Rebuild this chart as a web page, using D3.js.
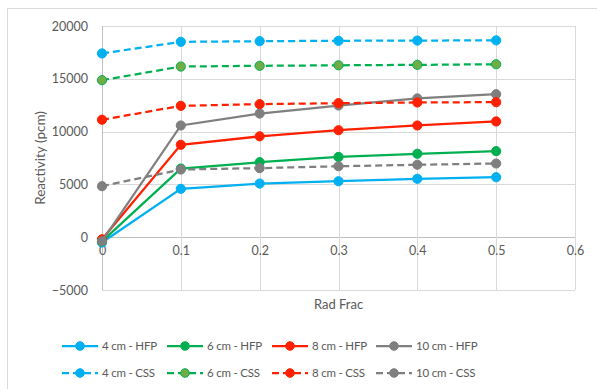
<!DOCTYPE html>
<html><head><meta charset="utf-8">
<script src="https://cdn.jsdelivr.net/npm/d3@7"></script>
<style>body{margin:0;background:#fff}svg{display:block}text{font-family:Lato,"Open Sans",sans-serif;fill:#595959}</style>
</head><body><svg id="c" width="597" height="389"></svg>
<script>
const radFrac = [0, 0.1, 0.2, 0.3, 0.4, 0.5];
const xTicks = [0, 0.1, 0.2, 0.3, 0.4, 0.5, 0.6];
const yTicks = [-5000, 0, 5000, 10000, 15000, 20000];
const seriesNames = ["4 cm - HFP","6 cm - HFP","8 cm - HFP","10 cm - HFP","4 cm - CSS","6 cm - CSS","8 cm - CSS","10 cm - CSS"];
const hfp4 = [-500, 4580, 5080, 5300, 5530, 5680];
const hfp6 = [-400, 6500, 7100, 7600, 7900, 8150];
const hfp8 = [-200, 8750, 9550, 10130, 10580, 10960];
const hfp10 = [-380, 10580, 11710, 12470, 13140, 13540];
const css4 = [17400, 18500, 18560, 18600, 18620, 18640];
const css6 = [14870, 16160, 16230, 16280, 16320, 16380];
const css8 = [11120, 12440, 12600, 12690, 12760, 12790];
const css10 = [4830, 6410, 6540, 6720, 6860, 6980];
const seriesValues = [hfp4, hfp6, hfp8, hfp10, css4, css6, css8, css10];
const colors = ["#00b0f0","#00b050","#ff2000","#7f7f7f","#00b0f0","#00b050","#ff2000","#7f7f7f"];
const markerFill = ["#00b0f0","#00b050","#ff2000","#7f7f7f","#00b0f0","#70ad47","#ff2000","#7f7f7f"];
const dashed = [false,false,false,false,true,true,true,true];

const svg = d3.select("#c");
svg.append("rect").attr("x",7.5).attr("y",8.5).attr("width",620).attr("height",420)
  .attr("fill","#fff").attr("stroke","#d9d9d9");

const L=102, R=575, T=26, B=290;
const x = d3.scaleLinear().domain([0,0.6]).range([L,R]);
const y = d3.scaleLinear().domain([-5000,20000]).range([B,T]);

// grid
const g = svg.append("g");
g.selectAll(".hg").data(yTicks).join("line")
  .attr("x1",L).attr("x2",R).attr("y1",d=>Math.round(y(d))+0.5).attr("y2",d=>Math.round(y(d))+0.5)
  .attr("stroke",d=>d===0?"#bfbfbf":"#d9d9d9").attr("stroke-width",1);
g.selectAll(".vg").data(xTicks).join("line")
  .attr("y1",T).attr("y2",B).attr("x1",d=>Math.round(x(d))+0.5).attr("x2",d=>Math.round(x(d))+0.5)
  .attr("stroke",d=>d===0?"#bfbfbf":"#d9d9d9").attr("stroke-width",1);

// y axis labels
const yAxis = d3.axisLeft(y).tickValues(yTicks).tickSize(0).tickPadding(14).tickFormat(d3.format("d"));
const ya = svg.append("g").attr("transform",`translate(${L},0)`).call(yAxis);
ya.select(".domain").remove();
ya.selectAll("text").style("font-size","12.5px").attr("fill","#595959").style("font-family","Lato,sans-serif");

// x axis labels at y=0
const xAxis = d3.axisBottom(x).tickValues(xTicks).tickSize(0).tickPadding(9).tickFormat(d=>d===0?"0":d3.format(".1f")(d));
const xa = svg.append("g").attr("transform",`translate(0,${y(0)})`).call(xAxis);
xa.select(".domain").remove();
xa.selectAll("text").style("font-size","12.5px").attr("fill","#595959").style("font-family","Lato,sans-serif");

// titles
svg.append("text").attr("x",(L+R)/2).attr("y",309).attr("text-anchor","middle").style("font-size","13px").text("Rad Frac");
svg.append("text").attr("transform",`translate(45,${(T+B)/2}) rotate(-90)`).attr("text-anchor","middle").style("font-size","13.5px").text("Reactivity (pcm)");

// series
const line = d3.line().x((d,i)=>x(radFrac[i])).y(d=>y(d));
const order = [0,1,2,3,4,5,6,7];
order.forEach(s=>{
  const sg = svg.append("g");
  sg.append("path").attr("d",line(seriesValues[s])).attr("fill","none")
    .attr("stroke",colors[s]).attr("stroke-width",2.25)
    .attr("stroke-dasharray",dashed[s]?"7,4":null);
  sg.selectAll("circle").data(seriesValues[s]).join("circle")
    .attr("cx",(d,i)=>x(radFrac[i])).attr("cy",d=>y(d)).attr("r",4.6)
    .attr("fill",markerFill[s]).attr("stroke",colors[s]).attr("stroke-width",1);
});

// legend
const colX = [62,167,272,376], rowY = [346,373];
seriesNames.forEach((name,s)=>{
  const lx = colX[s%4], ly = rowY[Math.floor(s/4)];
  const lg = svg.append("g");
  lg.append("line").attr("x1",lx).attr("x2",lx+36).attr("y1",ly).attr("y2",ly)
    .attr("stroke",colors[s]).attr("stroke-width",2.25).attr("stroke-dasharray",dashed[s]?"7,4":null);
  lg.append("circle").attr("cx",lx+18).attr("cy",ly).attr("r",4.3)
    .attr("fill",markerFill[s]).attr("stroke",colors[s]).attr("stroke-width",1);
  lg.append("text").attr("x",lx+40).attr("y",ly).attr("dy","0.35em").style("font-size","11.5px")
    .style("letter-spacing","-0.2px").text(name);
});
</script></body></html>
